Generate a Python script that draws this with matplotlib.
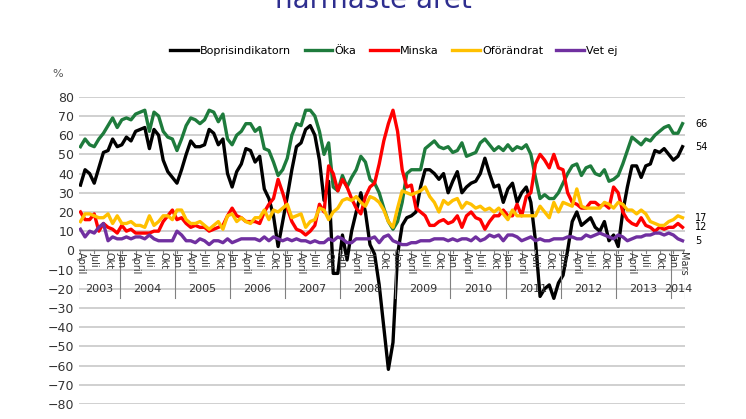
import numpy as np
import matplotlib.pyplot as plt

years = ["2003", "2004", "2005", "2006", "2007", "2008", "2009", "2010", "2011", "2012", "2013", "2014"]
month_names = ["Jan", "Feb", "Mars", "April", "Maj", "Juni", "Juli", "Aug", "Sep", "Okt", "Nov", "Dec"]

bopris = [34, 42, 40, 35, 43, 51, 52, 58, 54,
          55, 59, 57, 62, 63, 64, 53, 63, 60, 47, 41, 38,
          35, 42, 50, 57, 54, 54, 55, 63, 61, 55, 58, 40,
          33, 41, 45, 53, 52, 46, 49, 32, 27, 18, 2, 15,
          28, 42, 54, 56, 63, 65, 60, 47, 26, 36, -12, -12,
          8, -5, 10, 20, 30, 20, 3, -2, -18, -40, -62, -48,
          -2, 13, 17, 18, 20, 33, 42, 42, 40, 37, 40, 30,
          36, 41, 30, 33, 35, 36, 40, 48, 40, 33, 34, 25,
          32, 35, 25, 30, 33, 25, 5, -24, -20, -18, -25, -17,
          -13, 0, 15, 20, 13, 15, 17, 12, 10, 15, 5, 8,
          2, 20, 33, 44, 44, 38, 44, 45, 52, 51, 53, 50,
          47, 49, 54]
oka = [54, 58, 55, 54, 58, 61, 65, 69, 64,
       68, 69, 68, 71, 72, 73, 62, 72, 70, 62, 59, 58,
       52, 58, 65, 69, 68, 66, 68, 73, 72, 67, 71, 58,
       55, 60, 62, 66, 66, 62, 64, 53, 52, 46, 39, 42,
       48, 60, 66, 65, 73, 73, 70, 62, 50, 56, 33, 31,
       39, 33, 38, 42, 49, 46, 37, 35, 30, 22, 15, 11,
       15, 25, 40, 42, 42, 42, 53, 55, 57, 54, 53, 54,
       51, 52, 56, 49, 50, 51, 56, 58, 55, 52, 54, 52,
       55, 52, 54, 53, 55, 50, 38, 27, 29, 27, 27, 30,
       35, 40, 44, 45, 39, 43, 44, 40, 39, 42, 36, 37,
       39, 45, 52, 59, 57, 55, 58, 57, 60, 62, 64, 65,
       61, 61, 66]
minska = [20, 16, 16, 19, 10, 14, 12, 11, 9,
          13, 10, 11, 9, 9, 9, 9, 10, 10, 15, 18, 21,
          16, 17, 14, 12, 13, 12, 12, 10, 11, 12, 13, 18,
          22, 18, 17, 15, 15, 15, 14, 20, 24, 27, 37, 30,
          22, 15, 11, 10, 8, 10, 13, 24, 20, 44, 40, 31,
          37, 33, 27, 22, 19, 28, 33, 35, 45, 57, 66, 73,
          62, 42, 33, 34, 22, 20, 18, 13, 13, 15, 16, 14,
          15, 18, 12, 18, 20, 17, 16, 11, 15, 18, 18, 21,
          18, 18, 24, 18, 28, 30, 45, 50, 47, 43, 50, 43,
          42, 30, 25, 24, 22, 22, 25, 25, 23, 24, 22, 33,
          30, 20, 16, 14, 13, 17, 13, 12, 10, 12, 11, 12,
          12, 14, 12]
oforandrat = [15, 19, 19, 18, 17, 17, 19, 14, 18,
              14, 14, 15, 13, 13, 12, 18, 13, 15, 18, 18, 16,
              21, 21, 16, 14, 14, 15, 13, 11, 13, 15, 11, 18,
              19, 15, 17, 15, 14, 17, 17, 21, 16, 21, 20, 22,
              24, 17, 18, 19, 12, 15, 16, 22, 21, 16, 20, 22,
              26, 27, 26, 28, 25, 23, 28, 27, 25, 21, 15, 12,
              22, 31, 30, 29, 30, 31, 33, 28, 25, 20, 26, 24,
              26, 27, 22, 25, 24, 22, 23, 21, 22, 20, 22, 19,
              16, 21, 18, 18, 18, 18, 18, 23, 20, 17, 25, 20,
              25, 24, 23, 32, 23, 22, 22, 22, 22, 25, 24, 22,
              25, 24, 21, 21, 19, 21, 19, 15, 14, 13, 13, 15,
              16, 18, 17]
vetej = [11, 7, 10, 9, 12, 14, 5, 7, 6,
         6, 7, 6, 7, 7, 6, 8, 6, 5, 5, 5, 5,
         10, 8, 5, 5, 4, 6, 5, 3, 5, 5, 4, 6,
         4, 5, 6, 6, 6, 6, 5, 7, 5, 7, 6, 5,
         6, 5, 6, 5, 5, 4, 5, 4, 4, 6, 5, 7,
         6, 4, 4, 6, 6, 6, 6, 7, 4, 7, 8, 5,
         4, 3, 3, 4, 4, 5, 5, 5, 6, 6, 6, 5,
         6, 5, 6, 6, 5, 7, 5, 6, 8, 7, 8, 5,
         8, 8, 7, 5, 6, 7, 5, 6, 5, 5, 6, 6,
         6, 7, 7, 6, 6, 8, 7, 8, 9, 8, 7, 6,
         8, 7, 5, 6, 7, 7, 8, 8, 9, 9, 8, 9,
         8, 6, 5]

series = [("Boprisindikatorn", bopris, "#000000"),
          ("Öka", oka, "#1E7B3C"),
          ("Minska", minska, "#FF0000"),
          ("Oförändrat", oforandrat, "#FFC000"),
          ("Vet ej", vetej, "#7030A0")]

# month index: 0 = April 2003
n = len(bopris)
x = np.arange(n)
months = [(3 + i) % 12 for i in range(n)]
yr_of = [2003 + (3 + i) // 12 for i in range(n)]

fig = plt.figure(figsize=(7.46, 4.19), dpi=100)
ax = fig.add_axes([0.106, 0.036, 0.812, 0.733])
ax.set_xlim(-0.3, n - 0.5)
ax.set_ylim(-80, 80)
ax.set_yticks(range(-80, 81, 10))
ax.tick_params(axis="y", length=0, labelsize=9, labelcolor="#333333")
ax.set_xticks([])
for s in ax.spines.values():
    s.set_visible(False)
ax.grid(axis="y", color="#C8C8C8", lw=1.2)
ax.set_axisbelow(True)
ax.axhline(0, color="#808080", lw=1)

for name, vals, col in series:
    ax.plot(x, vals, color=col, lw=2.4, label=name)

# month labels every third month
for i in range(n):
    if months[i] in (0, 3, 6, 9) or i == n - 1:
        lab = month_names[months[i]]
        ax.text(i, -1, lab, rotation=-90, ha="center", va="top", fontsize=7, color="#333333")
        ax.plot([i, i], [0, -1.2], color="#808080", lw=0.8)

# year separators and labels
bounds = [-0.5] + [i - 0.5 for i in range(1, n) if months[i] == 0] + [n - 0.5]
for b in bounds:
    ax.plot([b, b], [0, -25], color="#808080", lw=0.8)
for k in range(len(bounds) - 1):
    ax.text((bounds[k] + bounds[k + 1]) / 2, -20, years[k], ha="center", va="center",
            fontsize=8, color="#333333")

# end labels
for name, vals, col in series:
    ax.text(n + 1.8, vals[-1], str(vals[-1]), fontsize=7, va="center", ha="left", clip_on=False)

ax.text(-5, 90.5, "%", fontsize=8, color="#555555", ha="center")
ax.legend(loc="lower center", bbox_to_anchor=(0.52, 1.1), ncol=5, frameon=False,
          fontsize=8, handlelength=2.5, columnspacing=1.2, handletextpad=0.2)

fig.text(0.5, 1.0, "närmaste året", ha="center", va="center", fontsize=20, color="#2E2E8F")

fig.savefig("out.png", dpi=100)
